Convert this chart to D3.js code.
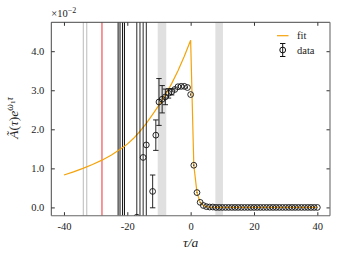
<!DOCTYPE html>
<html><head><meta charset="utf-8">
<script src="https://cdn.jsdelivr.net/npm/d3@7"></script>
<style>body{margin:0;background:#fff}svg{display:block}text{font-family:"Liberation Serif","DejaVu Serif",serif;fill:#222}</style>
</head><body><svg id="c" width="346" height="260"></svg>
<script>
// data (values in units of 1e-2)
const tau = [-17,-16,-15,-14,-12,-11,-10,-9,-8,-7,-6,-5,-4,-3,-2,-1,0,1,2,3,4,5,6,7,8,9,10,11,12,13,14,15,16,17,18,19,20,21,22,23,24,25,26,27,28,29,30,31,32,33,34,35,36,37,38,39,40];
const val = [-0.25,5.5,1.28,1.6,0.41,1.85,2.70,2.77,2.83,2.92,2.96,3.02,3.09,3.10,3.10,3.07,2.89,1.08,0.38,0.13,0.05,0.02,0.01,0.01,0,0,0,0,0,0,0,0,0,0,0,0,0,0,0,0,0,0,0,0,0,0,0,0,0,0,0,0,0,0,0,0,0];
const err = [9,9,9,9,0.42,0.39,0.6,0.35,0.2,0.12,0.08,0.05,0.04,0.03,0.03,0.03,0.03,0.02,0.01,0.01,0,0,0,0,0,0,0,0,0,0,0,0,0,0,0,0,0,0,0,0,0,0,0,0,0,0,0,0,0,0,0,0,0,0,0,0,0];
const fitTau = [-40,-37,-34,-31,-28,-25,-22,-20,-18,-16,-14,-12,-10,-8,-6,-4,-2,0,1,2,3,4,5,6,8,10,20,30,40];
const fitVal = [0.83,0.91,1.0,1.1,1.21,1.34,1.50,1.62,1.77,1.95,2.15,2.38,2.62,2.88,3.17,3.50,3.87,4.28,1.08,0.38,0.13,0.05,0.02,0.01,0,0,0,0,0];
const darkLines = [-22.9,-22.3,-21.5,-20.9];
const greyLines = [-33.9,-32.8];
const redLines = [-28];
const bands = [[-10.4,-7.7],[7.8,10.2]];
const xTicks = [-40,-20,0,20,40];
const yTicks = [0,1,2,3,4];

const W=346,H=260, m={l:51.3,r:16,t:22.3,b:44.3};
const svg=d3.select("#c");
const x=d3.scaleLinear().domain([-44,44]).range([m.l,W-m.r]);
const y=d3.scaleLinear().domain([-0.212,4.74]).range([H-m.b,m.t]);
svg.append("clipPath").attr("id","clip").append("rect").attr("x",m.l).attr("y",m.t).attr("width",W-m.l-m.r).attr("height",H-m.t-m.b);
const g=svg.append("g").attr("clip-path","url(#clip)");
g.selectAll(".band").data(bands).join("rect").attr("x",d=>x(d[0])).attr("width",d=>x(d[1])-x(d[0])).attr("y",m.t).attr("height",H-m.t-m.b).attr("fill","#e0e0e0");
g.selectAll(".gl").data(greyLines).join("line").attr("x1",d=>x(d)).attr("x2",d=>x(d)).attr("y1",m.t).attr("y2",H-m.b).attr("stroke","#bbb").attr("stroke-width",1);
g.selectAll(".rl").data(redLines).join("line").attr("x1",d=>x(d)).attr("x2",d=>x(d)).attr("y1",m.t).attr("y2",H-m.b).attr("stroke","#f03030").attr("stroke-width",1);
g.selectAll(".dl").data(darkLines).join("line").attr("x1",d=>x(d)).attr("x2",d=>x(d)).attr("y1",m.t).attr("y2",H-m.b).attr("stroke","#111").attr("stroke-width",1);
const line=d3.line().x((d,i)=>x(fitTau[i])).y(d=>y(d));
g.append("path").attr("d",line(fitVal)).attr("fill","none").attr("stroke","#f5a30a").attr("stroke-width",1.2);
const pts=tau.map((t,i)=>({t,v:val[i],e:err[i]}));
const eb=g.selectAll(".eb").data(pts).join("g");
eb.append("line").attr("x1",d=>x(d.t)).attr("x2",d=>x(d.t)).attr("y1",d=>y(d.v-d.e)).attr("y2",d=>y(d.v+d.e)).attr("stroke","#111").attr("stroke-width",0.9);
eb.filter(d=>d.e>0.06).selectAll(".cap").data(d=>[[d.t,d.v-d.e],[d.t,d.v+d.e]]).join("line").attr("x1",d=>x(d[0])-2.7).attr("x2",d=>x(d[0])+2.7).attr("y1",d=>y(d[1])).attr("y2",d=>y(d[1])).attr("stroke","#111").attr("stroke-width",0.9);
g.selectAll(".pt").data(pts).join("circle").attr("cx",d=>x(d.t)).attr("cy",d=>y(d.v)).attr("r",2.9).attr("fill","none").attr("stroke","#111").attr("stroke-width",0.9);
// axes
const ax=svg.append("g");
ax.append("g").attr("transform",`translate(0,${H-m.b})`).call(d3.axisBottom(x).tickValues(xTicks).tickSize(-3.5).tickPadding(7).tickFormat(d=>String(d)));
ax.append("g").attr("transform",`translate(0,${m.t})`).call(d3.axisTop(x).tickValues(xTicks).tickSize(-3.5).tickFormat(""));
ax.append("g").attr("transform",`translate(${m.l},0)`).call(d3.axisLeft(y).tickValues(yTicks).tickSize(-3.5).tickPadding(7).tickFormat(d=>d.toFixed(1)));
ax.append("g").attr("transform",`translate(${W-m.r},0)`).call(d3.axisRight(y).tickValues(yTicks).tickSize(-3.5).tickFormat(""));
ax.selectAll(".domain").remove();
ax.selectAll("line").attr("stroke","#333");
ax.selectAll("text").attr("font-size",10.5).attr("font-family","Liberation Serif").attr("fill","#222");
svg.append("line").attr("x1",m.l).attr("x2",W-m.r).attr("y1",m.t).attr("y2",m.t).attr("stroke","#333").attr("stroke-width",0.9);
svg.append("line").attr("x1",m.l).attr("x2",m.l).attr("y1",m.t).attr("y2",H-m.b).attr("stroke","#333").attr("stroke-width",0.9);
svg.append("line").attr("x1",W-m.r).attr("x2",W-m.r).attr("y1",m.t).attr("y2",H-m.b).attr("stroke","#777").attr("stroke-width",1.2);
svg.append("line").attr("x1",m.l).attr("x2",W-m.r).attr("y1",H-m.b).attr("y2",H-m.b).attr("stroke","#666").attr("stroke-width",1.1);
svg.append("text").attr("x",m.l).attr("y",17).attr("font-size",10.5).html('×10<tspan dy="-4" font-size="8">−2</tspan>');
svg.append("text").attr("x",x(0)).attr("y",247).attr("text-anchor","middle").attr("font-size",13.5).attr("font-style","italic").text("τ/a");
svg.append("text").attr("transform","translate(18,118) rotate(-90)").attr("text-anchor","middle").attr("font-size",13.5).html('<tspan font-style="italic">Ã</tspan>(<tspan font-style="italic">τ</tspan>)<tspan font-style="italic">e</tspan><tspan dy="-5" font-size="9.5" font-style="italic">ω</tspan><tspan font-size="7" dy="1.5">1</tspan><tspan font-size="9.5" dy="-1.5" font-style="italic">τ</tspan>');
// legend
const lg=svg.append("g");
lg.append("line").attr("x1",277).attr("x2",288.5).attr("y1",35.7).attr("y2",35.7).attr("stroke","#f5a30a").attr("stroke-width",1.2);
lg.append("text").attr("x",297).attr("y",39).attr("font-size",10.5).text("fit");
lg.append("line").attr("x1",282.7).attr("x2",282.7).attr("y1",43.5).attr("y2",56.5).attr("stroke","#111");
lg.selectAll(".lc").data([43.5,56.5]).join("line").attr("x1",280).attr("x2",285.4).attr("y1",d=>d).attr("y2",d=>d).attr("stroke","#111");
lg.append("circle").attr("cx",282.7).attr("cy",50).attr("r",2.9).attr("fill","none").attr("stroke","#111");
lg.append("text").attr("x",297).attr("y",53.5).attr("font-size",10.5).text("data");
</script></body></html>
